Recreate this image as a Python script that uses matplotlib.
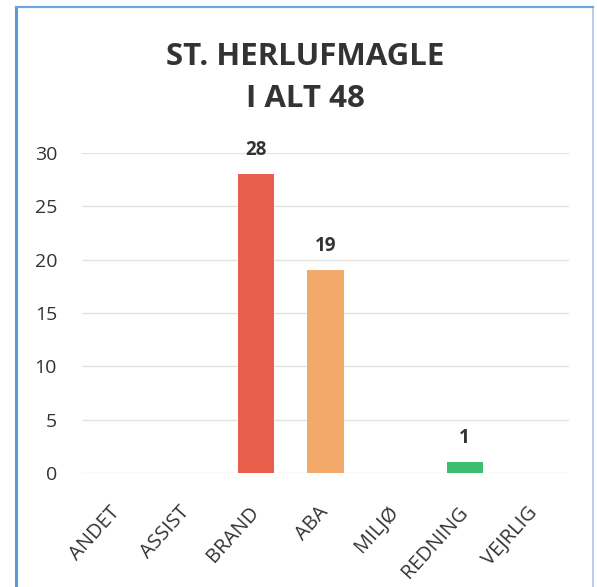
import matplotlib.pyplot as plt
from matplotlib import patches

categories = ['ANDET', 'ASSIST', 'BRAND', 'ABA', 'MILJØ', 'REDNING', 'VEJRLIG']
values = [0, 0, 28, 19, 0, 1, 0]
colors = ['#4472c4', '#4472c4', '#e8604c', '#f2a96a', '#4472c4', '#3dbe6e', '#4472c4']
title = 'ST. HERLUFMAGLE\nI ALT 48'

plt.rcParams['font.family'] = ['Open Sans', 'DejaVu Sans']

fig = plt.figure(figsize=(5.97, 5.87), dpi=100)
ax = fig.add_axes([82 / 597, (587 - 473) / 587, (569 - 82) / 597, 320 / 587])

x = range(len(categories))
ax.bar(x, values, width=0.52, color=colors, zorder=3)

for xi, v in zip(x, values):
    if v > 0:
        ax.annotate(f'{v}', xy=(xi, v), xytext=(0, 10), textcoords='offset points',
                    ha='center', va='bottom', fontsize=13.5, fontweight='bold', color='#333333')

ax.set_xlim(-0.5, len(categories) - 0.5)
ax.set_ylim(0, 30)
ax.set_yticks(range(0, 31, 5))
ax.yaxis.grid(True, color='#e3e3e3', linewidth=1, zorder=0)
ax.set_xticks(list(x))
ax.set_xticklabels(categories, rotation=48, ha='right', va='center', rotation_mode='anchor',
                   fontsize=14.5, color='#333333')
ax.tick_params(axis='both', length=0)
ax.tick_params(axis='y', labelsize=14, labelcolor='#333333', pad=18)
ax.tick_params(axis='x', pad=26)
for s in ax.spines.values():
    s.set_visible(False)

fig.text(0.511, 0.867, title, ha='center', va='center', fontsize=22.5,
         fontweight='bold', color='#333333', linespacing=1.55)

# chart frame
fig.add_artist(patches.Rectangle((16 / 597, -0.05), (593 - 16) / 597, 1.05 - 7 / 587,
                                 transform=fig.transFigure, fill=False,
                                 edgecolor='#a9c8ea', linewidth=1.2))
fig.add_artist(plt.Line2D([16 / 597, 16 / 597], [0, 1 - 7 / 587], transform=fig.transFigure,
                          color='#5b9bd5', linewidth=2.2))
fig.add_artist(plt.Line2D([16 / 597, 593 / 597], [1 - 7 / 587, 1 - 7 / 587],
                          transform=fig.transFigure, color='#6fa6da', linewidth=1.6))

fig.savefig('out.png', dpi=100)
